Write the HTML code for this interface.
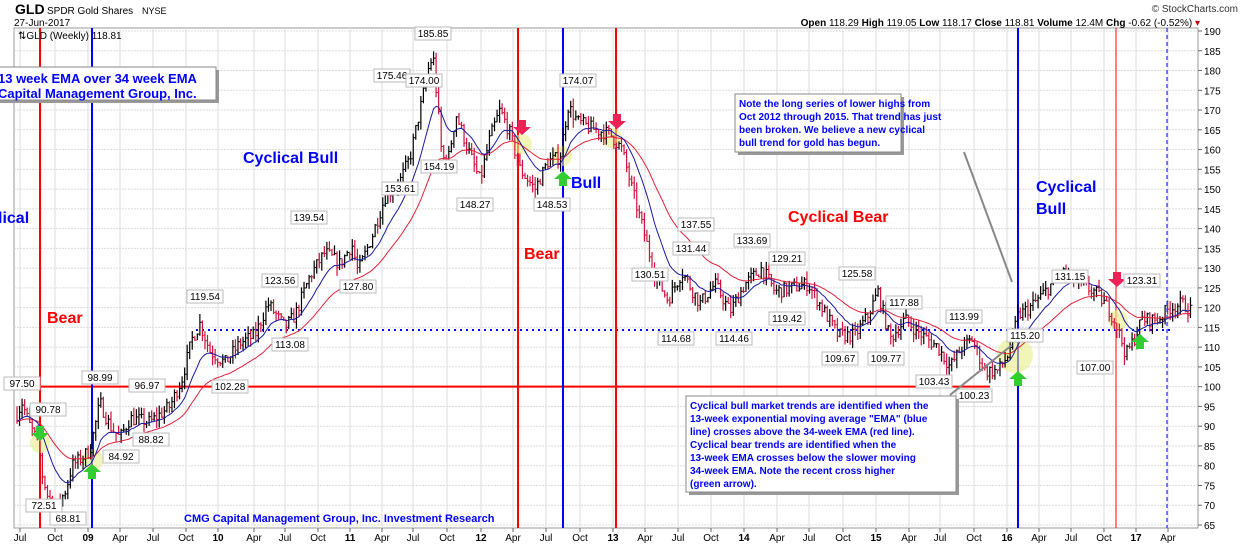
<!DOCTYPE html>
<html><head><meta charset="utf-8"><style>
body{margin:0;background:#fff;width:1240px;height:546px;overflow:hidden;font-family:"Liberation Sans",sans-serif}
svg{position:absolute;left:0;top:0}
</style></head><body>
<svg id="s" width="1240" height="546" xmlns="http://www.w3.org/2000/svg" font-family="Liberation Sans, sans-serif">
<rect x="14" y="28" width="1184" height="500" fill="#fff" stroke="#999"/>
<g id="grid"></g>
<g id="ann1"></g>
<g id="bars"></g>
<g id="ema"></g>
<g id="ann2"></g>
<text x="15" y="14" font-size="14" font-weight="bold">GLD</text>
<text x="47" y="14" font-size="10">SPDR Gold Shares</text><text x="142" y="14" font-size="9">NYSE</text>
<text x="14" y="26" font-size="10">27-Jun-2017</text>
<text x="18" y="39" font-size="10">⇅GLD (Weekly) 118.81</text>
<text x="1238" y="12" font-size="10" text-anchor="end" fill="#333">© StockCharts.com</text>
<text x="1200" y="26" font-size="10" text-anchor="end"><tspan font-weight="bold">Open</tspan> 118.29 <tspan font-weight="bold">High</tspan> 119.05 <tspan font-weight="bold">Low</tspan> 118.17 <tspan font-weight="bold">Close</tspan> 118.81 <tspan font-weight="bold">Volume</tspan> 12.4M <tspan font-weight="bold">Chg</tspan> -0.62 (-0.52%) <tspan fill="#c00">▾</tspan></text>
</svg>
<script>
const NS="http://www.w3.org/2000/svg";
function el(p,t,a,txt){const e=document.createElementNS(NS,t);for(const k in a)e.setAttribute(k,a[k]);if(txt!==undefined)e.textContent=txt;document.getElementById(p).appendChild(e);return e;}
const Y=p=>31+(190-p)*3.952;
for(let p=65;p<=190;p+=5){const y=Y(p);el('grid','line',{x1:14,x2:1198,y1:y,y2:y,stroke:'#ddd','stroke-dasharray':'2,1'});
el('grid','line',{x1:1198,x2:1202,y1:y,y2:y,stroke:'#666'});el('grid','text',{x:1204,y:y+4,'font-size':10},p);}
const xl=[["Jul",20],["Oct",55],["09",88],["Apr",120],["Jul",153],["Oct",186],["10",218],["Apr",254],["Jul",285],["Oct",318],["11",350],["Apr",382],["Jul",413],["Oct",447],["12",481],["Apr",513],["Jul",546],["Oct",580],["13",613],["Apr",645],["Jul",678],["Oct",711],["14",744],["Apr",777],["Jul",809],["Oct",843],["15",876],["Apr",909],["Jul",940],["Oct",974],["16",1007],["Apr",1039],["Jul",1071],["Oct",1104],["17",1136],["Apr",1168]];
xl.forEach(([t,x])=>{el('grid','line',{x1:x,x2:x,y1:28,y2:528,stroke:'#ddd'});el('grid','line',{x1:x,x2:x,y1:528,y2:532,stroke:'#666'});
el('grid','text',{x:x,y:541,'font-size':10,'text-anchor':'middle','font-weight':/^\d/.test(t)?'bold':'normal'},t);});
const K=[[17,93],[22,96],[30,90],[38,86],[42,78],[48,72],[58,70],[66,74],[72,80],[82,82],[90,84],[100,96],[110,90],[120,87],[130,92],[150,91],[170,95],[182,102],[192,112],[200,116],[210,109],[225,106],[240,111],[255,113],[268,121],[285,115],[295,118],[310,128],[325,134],[340,131],[352,136],[358,129],[372,138],[385,148],[400,152],[410,158],[420,170],[428,180],[433,184],[438,170],[442,158],[448,157],[456,169],[468,160],[480,152],[490,163],[500,170],[510,164],[520,155],[535,150],[548,157],[560,158],[568,171],[578,167],[595,165],[610,164],[622,160],[632,150],[645,138],[655,128],[668,122],[682,129],[700,121],[715,126],[730,119],[745,126],[762,130],[775,124],[792,125],[808,126],[822,120],[838,113],[855,113],[868,118],[878,124],[890,112],[905,117],[922,113],[938,110],[950,105],[962,110],[972,112],[985,104],[998,104],[1008,108],[1018,118],[1030,120],[1045,124],[1062,129],[1078,126],[1095,124],[1108,120],[1116,116],[1126,108],[1134,112],[1142,117],[1158,117],[1170,120],[1182,121],[1192,119]];
function interp(x){for(let i=1;i<K.length;i++)if(x<=K[i][0]){const a=K[i-1],b=K[i];return a[1]+(b[1]-a[1])*(x-a[0])/(b[0]-a[0]);}return K[K.length-1][1];}
let seed=7;const rnd=()=>{seed=(seed*16807)%2147483647;return seed/2147483647;};
const closes=[],xs=[];let prev=93;
for(let x=17;x<=1192;x+=2.54){const base=interp(x);const c=base+(rnd()-0.5)*3.5;const o=prev;const hi=Math.max(o,c)+rnd()*2.2;const lo=Math.min(o,c)-rnd()*2.2;
const up=c>=o;el('bars','line',{x1:x,x2:x,y1:Y(hi),y2:Y(lo),stroke:up?'#000':'#d0103a','stroke-width':1.2});
el('bars','line',{x1:x,x2:x+2,y1:Y(c),y2:Y(c),stroke:up?'#000':'#d0103a'});
closes.push(c);xs.push(x);prev=c;}
function ema(n,col){const k=2/(n+1);let e=closes[0];let d='';closes.forEach((c,i)=>{e=c*k+e*(1-k);d+=(i?'L':'M')+xs[i].toFixed(1)+' '+Y(e).toFixed(1);});el('ema','path',{d:d,fill:'none',stroke:col,'stroke-width':1});}
ema(34,'#e0203a');ema(13,'#1a1aa0');
el('ann1','line',{x1:14,x2:990,y1:Y(100),y2:Y(100),stroke:'#f00','stroke-width':2});
el('ann1','line',{x1:196,x2:1172,y1:330,y2:330,stroke:'#00f','stroke-width':2,'stroke-dasharray':'2,4'});
[[40,'#f00',2],[518,'#f00',2],[616,'#f00',2],[1116,'#f00',1],[92,'#00f',2],[563,'#00f',2],[1018,'#00f',2]].forEach(([x,c,w])=>el('ann1','line',{x1:x,x2:x,y1:28,y2:528,stroke:c,'stroke-width':w}));
el('ann1','line',{x1:1167,x2:1167,y1:28,y2:528,stroke:'#00f','stroke-width':1,'stroke-dasharray':'4,3'});
[[40,443,10],[92,460,11],[522,144,10],[562,156,10],[612,138,10],[1015,355,18],[1118,320,10]].forEach(([x,y,r])=>el('ann1','circle',{cx:x,cy:y,r:r,fill:'#e8f088',opacity:0.6}));
function arrow(x,y,dn,c){const d=dn?`M${x-4} ${y-14}h8v7h5l-9 8l-9-8h5z`:`M${x-4} ${y+14}h8v-7h5l-9-8l-9 8h5z`;el('ann2','path',{d:d,fill:c});}
arrow(40,440,true,'#33cc33');arrow(92,465,false,'#33cc33');arrow(563,172,false,'#33cc33');arrow(1018,372,false,'#33cc33');arrow(1140,335,false,'#33cc33');
arrow(522,134,true,'#ee2255');arrow(617,128,true,'#ee2255');arrow(1117,286,true,'#ee2255');
const L=[[22,387,'97.50'],[48,413,'90.78'],[100,381,'98.99'],[147,389,'96.97'],[44,509,'72.51'],[68,522,'68.81'],[121,460,'84.92'],[151,443,'88.82'],[205,300,'119.54'],[230,390,'102.28'],[280,284,'123.56'],[290,348,'113.08'],[358,290,'127.80'],[309,221,'139.54'],[400,192,'153.61'],[439,170,'154.19'],[433,37,'185.85'],[392,79,'175.46'],[424,84,'174.00'],[475,208,'148.27'],[552,208,'148.53'],[578,84,'174.07'],[696,228,'137.55'],[650,278,'130.51'],[691,252,'131.44'],[752,244,'133.69'],[676,342,'114.68'],[734,342,'114.46'],[787,262,'129.21'],[787,322,'119.42'],[857,277,'125.58'],[904,306,'117.88'],[964,320,'113.99'],[840,362,'109.67'],[886,362,'109.77'],[934,385,'103.43'],[974,399,'100.23'],[1025,339,'115.20'],[1070,280,'131.15'],[1095,371,'107.00'],[1142,284,'123.31']];
L.forEach(([cx,y,t])=>{el('ann2','rect',{x:cx-18,y:y-10,width:36,height:13,fill:'#fff',stroke:'#bbb'});el('ann2','text',{x:cx,y:y,'font-size':10,'text-anchor':'middle'},t);});
const T=[[-2,223,'lical','#00f',16],[47,323,'Bear','#f00',16],[243,163,'Cyclical Bull','#00f',16],[524,259,'Bear','#f00',16],[571,188,'Bull','#00f',16],[788,222,'Cyclical Bear','#f00',16],[1036,192,'Cyclical','#00f',16],[1036,214,'Bull','#00f',16]];
T.forEach(([x,y,t,c,s])=>el('ann2','text',{x:x,y:y,'font-size':s,'font-weight':'bold',fill:c},t));
el('ann2','text',{x:184,y:522,'font-size':11,'font-weight':'bold',fill:'#00f'},'CMG Capital Management Group, Inc. Investment Research');
function box(x,y,w,h,lines,fs,lh){el('ann2','rect',{x:x+3,y:y+3,width:w,height:h,fill:'#999'});el('ann2','rect',{x:x,y:y,width:w,height:h,fill:'#fff',stroke:'#888'});
lines.forEach((t,i)=>el('ann2','text',{x:x+4,y:y+fs+3+i*lh,'font-size':fs,'font-weight':'bold',fill:'#00f'},t));}
el('ann2','line',{x1:964,y1:152,x2:1012,y2:282,stroke:'#888','stroke-width':2});
el('ann2','line',{x1:950,y1:395,x2:1012,y2:345,stroke:'#888','stroke-width':2});
box(-6,67,222,33,['13 week EMA over 34 week EMA','Capital Management Group, Inc.'],13,15);
box(735,94,166,58,['Note the long series of lower highs from','Oct 2012 through 2015.  That trend has just','been broken.  We believe a new cyclical','bull trend for gold has begun.'],10,13);
box(686,396,270,96,['Cyclical bull market trends are identified when the','13-week exponential moving average "EMA" (blue','line) crosses above the 34-week EMA (red line).','Cyclical bear trends are identified when the','13-week EMA crosses below the slower moving','34-week EMA.  Note the recent cross higher','(green arrow).'],10,13);
</script>
</body></html>
